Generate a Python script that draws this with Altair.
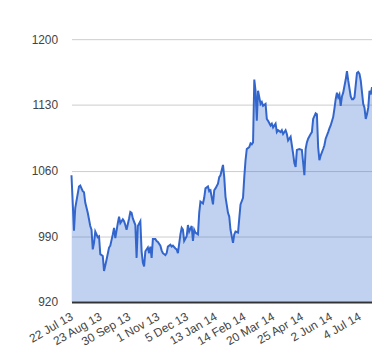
import altair as alt
import pandas as pd

# trading-day index (0 = 22 Jul 13) and price
days = [0, 2, 3, 6, 7, 9, 10, 11, 13, 15, 16, 17, 18, 19, 21, 22, 23, 25, 26, 28,
        30, 31, 33, 34, 35, 37, 38, 39, 41, 42, 43, 44, 46, 47, 48, 49, 51, 52, 53, 55,
        56, 57, 58, 59, 61, 62, 63, 64, 65, 67, 68, 69, 71, 72, 73, 75, 76, 77, 79, 80,
        81, 83, 84, 85, 87, 88, 89, 90, 92, 93, 94, 96, 97, 98, 99, 101, 102, 103, 105, 106,
        107, 109, 110, 111, 113, 114, 115, 117, 118, 119, 121, 122, 123, 125, 126, 127, 129, 130, 131, 133,
        134, 135, 137, 138, 139, 140, 142, 143, 144, 145, 146, 147, 148, 149, 151, 152, 153, 155, 156, 157,
        159, 160, 161, 163, 164, 165, 167, 168, 169, 171, 172, 173, 175, 176, 177, 178, 179, 180, 182, 184,
        186, 187, 188, 189, 191, 192, 193, 195, 196, 197, 198, 199, 201, 202, 203, 205, 206, 207, 209, 210,
        211, 212, 213, 214, 215, 216, 217, 219, 220, 221, 223, 224, 225, 226, 228, 229, 230, 231, 233, 234,
        235, 236, 237, 238, 239, 240]
values = [1055, 996, 1020, 1043, 1044, 1038, 1037, 1026, 1015, 1001, 997, 976, 983, 995, 989, 990, 971, 969, 953, 965,
          978, 980, 992, 999, 988, 1004, 1011, 1004, 1008, 1006, 1002, 997, 1009, 1016, 1015, 1009, 1002, 967, 1001, 1006,
          974, 962, 958, 974, 978, 972, 979, 967, 987, 987, 985, 984, 980, 975, 972, 970, 972, 979, 981, 979,
          980, 977, 976, 972, 992, 999, 997, 985, 990, 1002, 995, 1001, 985, 997, 994, 992, 1015, 1027, 1025, 1031,
          1041, 1043, 1038, 1039, 1024, 1039, 1041, 1046, 1053, 1055, 1066, 1053, 1032, 1015, 1011, 997, 983, 992, 995, 994,
          1009, 1024, 1031, 1053, 1071, 1083, 1085, 1089, 1088, 1090, 1157, 1145, 1113, 1145, 1131, 1133, 1129, 1131, 1115, 1113,
          1108, 1110, 1106, 1110, 1101, 1103, 1101, 1103, 1099, 1103, 1099, 1092, 1096, 1087, 1078, 1068, 1064, 1082, 1083, 1082,
          1055, 1083, 1090, 1094, 1099, 1101, 1115, 1121, 1120, 1085, 1071, 1076, 1083, 1087, 1094, 1101, 1105, 1108, 1117, 1126,
          1136, 1143, 1138, 1141, 1129, 1139, 1143, 1157, 1166, 1156, 1139, 1136, 1136, 1138, 1164, 1165, 1163, 1156, 1131, 1127,
          1115, 1120, 1127, 1145, 1141, 1149]

tick_days = [0, 23, 46, 69, 92, 115, 138, 161, 184, 207, 230]
tick_labels = ["22 Jul 13", "23 Aug 13", "30 Sep 13", "1 Nov 13", "5 Dec 13", "13 Jan 14",
               "14 Feb 14", "20 Mar 14", "25 Apr 14", "2 Jun 14", "4 Jul 14"]
y_ticks = [920, 990, 1060, 1130, 1200]

df = pd.DataFrame({"day": days, "value": values})

label_arr = "[" + ",".join("'" + s + "'" for s in tick_labels) + "]"
label_expr = label_arr + "[round(datum.value / 23)]"

x = alt.X("day:Q",
          scale=alt.Scale(domain=[0, 240], nice=False, zero=False),
          axis=alt.Axis(values=tick_days, labelExpr=label_expr, title=None, grid=False,
                        ticks=False, domain=True, domainColor="#333333", domainWidth=2,
                        labelAngle=-30, labelAlign="right", labelBaseline="middle",
                        labelPadding=13, labelFont="Liberation Sans", labelFontSize=12,
                        labelColor="#444444", labelOverlap=False, labelFlush=False))
y = alt.Y("value:Q",
          scale=alt.Scale(domain=[920, 1200], nice=False, zero=False),
          axis=alt.Axis(values=y_ticks, format="d", title=None, grid=True, gridColor="#cccccc",
                        ticks=False, domain=False, labelPadding=14,
                        labelFont="Liberation Sans", labelFontSize=12, labelColor="#444444"))

area = alt.Chart(df).mark_area(color="#3366cc", opacity=0.3, clip=True).encode(
    x=x, y=y, y2=alt.datum(920))
line = alt.Chart(df).mark_line(color="#3366cc", strokeWidth=2).encode(x=x, y=y)

chart = alt.layer(area, line).properties(
    width=303, height=265,
    autosize=alt.AutoSizeParams(type="none"),
    padding={"left": 64, "top": 30, "right": 0, "bottom": 50},
).configure_view(stroke=None)

chart.save("out.html", embed_options={"renderer": "svg", "actions": False})
